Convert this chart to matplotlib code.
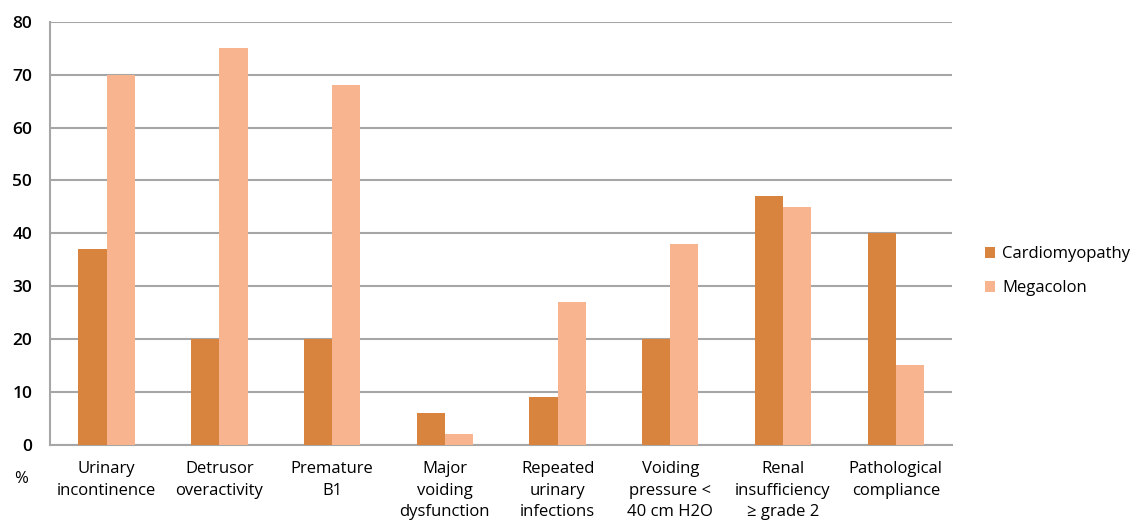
import matplotlib
matplotlib.use("Agg")
import matplotlib.pyplot as plt
import numpy as np

plt.rcParams['font.family'] = ['Open Sans', 'DejaVu Sans']

categories = ["Urinary\nincontinence", "Detrusor\noveractivity", "Premature\nB1",
              "Major\nvoiding\ndysfunction", "Repeated\nurinary\ninfections",
              "Voiding\npressure <\n40 cm H2O", "Renal\ninsufficiency\n≥ grade 2",
              "Pathological\ncompliance"]
cardiomyopathy = [37, 20, 20, 6, 9, 20, 47, 40]
megacolon = [70, 75, 68, 2, 27, 38, 45, 15]

c_dark = "#D9843E"
c_light = "#F8B48F"

fig = plt.figure(figsize=(11.43, 5.32), dpi=100)
ax = fig.add_axes([0.044, 0.164, 0.789, 0.795])

x = np.arange(len(categories))
w = 0.25
ax.bar(x - w / 2, cardiomyopathy, w, color=c_dark, label="Cardiomyopathy", zorder=3)
ax.bar(x + w / 2, megacolon, w, color=c_light, label="Megacolon", zorder=3)

ax.set_xlim(-0.5, len(categories) - 0.5)
ax.set_ylim(0, 80)
ax.set_yticks(range(0, 81, 10))
ax.yaxis.grid(True, color="#A6A6A6", linewidth=1.5, zorder=0)
ax.set_xticks(x)
ax.set_xticklabels(categories, fontsize=12, linespacing=1.45, va="top")
ax.tick_params(axis="x", length=0, pad=12)
ax.tick_params(axis="y", length=0, pad=13, labelsize=12.5)
for lab in ax.get_yticklabels():
    lab.set_fontweight("semibold")

for s in ["top", "right"]:
    ax.spines[s].set_visible(False)
ax.spines["left"].set_color("#A6A6A6")
ax.spines["left"].set_linewidth(1.5)
ax.spines["bottom"].set_color("#A6A6A6")
ax.spines["bottom"].set_linewidth(1.5)

fig.text(0.012, 0.1, "%", fontsize=12, ha="left", va="center")

fig.legend(loc="center left", bbox_to_anchor=(0.849, 0.49), frameon=False,
           fontsize=12, handlelength=0.6, handleheight=0.6, handletextpad=0.4,
           labelspacing=1.1)

fig.savefig("out.png", dpi=100)
